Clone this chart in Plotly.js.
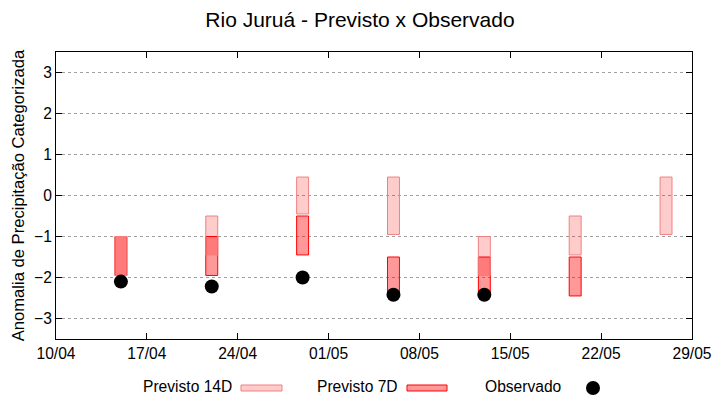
<!DOCTYPE html>
<html><head><meta charset="utf-8">
<script src="https://cdn.plot.ly/plotly-3.0.1.min.js"></script>
<style>body{margin:0;background:#fff}#c{width:720px;height:400px}</style>
</head><body><div id="c"></div>
<script>
const dates = ["2024-04-15","2024-04-22","2024-04-29","2024-05-06","2024-05-13","2024-05-20","2024-05-27"];
const p14Low  = [-1.95, -1.45, -0.45, -0.95, -1.95, -1.45, -0.95];
const p14High = [-1.00, -0.50,  0.45,  0.45, -1.00, -0.50,  0.45];
const p7Low   = [-1.95, -1.95, -1.45, -2.45, -2.45, -2.45, null];
const p7High  = [-1.00, -1.00, -0.50, -1.50, -1.50, -1.50, null];
const obsDates = ["2024-04-15","2024-04-22","2024-04-29","2024-05-06","2024-05-13"];
const obsVals  = [-2.10, -2.22, -2.00, -2.42, -2.42];
const xTickVals = ["2024-04-10","2024-04-17","2024-04-24","2024-05-01","2024-05-08","2024-05-15","2024-05-22","2024-05-29"];
const yTickVals = [-3,-2,-1,0,1,2,3];

const barW = 0.92*86400000;
function span(lo, hi){ return lo.map((v,i)=> (v===null||hi[i]===null)? null : hi[i]-v); }

const traces = [
  {type:'bar', x:dates, base:p7Low, y:span(p7Low,p7High), width:barW,
   marker:{color:'rgba(255,0,0,0.4)', line:{color:'#ff0000', width:1}}, hoverinfo:'skip'},
  {type:'bar', x:dates, base:p14Low, y:span(p14Low,p14High), width:barW,
   marker:{color:'rgba(255,0,0,0.2)', line:{color:'#f08080', width:1}}, hoverinfo:'skip'},
  {type:'scatter', mode:'markers', x:obsDates, y:obsVals,
   marker:{color:'#000', size:14, line:{width:0}}}
];

const font = {family:'Liberation Sans, Arial, sans-serif', color:'#000'};
const fs = 15.6;
const layout = {
  width:720, height:400,
  margin:{l:56, r:28, t:52, b:61},
  paper_bgcolor:'#fff', plot_bgcolor:'#fff',
  barmode:'overlay', showlegend:false,
  font:Object.assign({size:fs}, font),
  title:{text:'Rio Juruá - Previsto x Observado', x:0.5, xanchor:'center', y:0.95, yanchor:'middle',
         font:Object.assign({size:21}, font)},
  xaxis:{type:'date', range:['2024-04-10','2024-05-29'], tickvals:xTickVals, tickformat:'%d/%m',
         showgrid:false, zeroline:false, showline:true, mirror:'ticks', linecolor:'#000', linewidth:1,
         ticks:'inside', ticklen:6, tickcolor:'#000', tickfont:Object.assign({size:fs}, font)},
  yaxis:{range:[-3.5,3.5], tickvals:yTickVals, showgrid:true, gridcolor:'#a0a0a0', griddash:'dot', gridwidth:1,
         zeroline:false, showline:true, mirror:'ticks', linecolor:'#000', linewidth:1,
         ticks:'inside', ticklen:6, tickcolor:'#000', tickfont:Object.assign({size:fs}, font),
         title:{text:'Anomalia de Precipitação Categorizada', standoff:5, font:Object.assign({size:16.6}, font)}},
  shapes:[
    {type:'rect', xref:'paper', yref:'paper', x0:(241-56)/636, x1:(282-56)/636, y0:-(385-339)/287, y1:-(391-339)/287,
     fillcolor:'rgba(255,0,0,0.2)', line:{color:'#f08080', width:1}},
    {type:'rect', xref:'paper', yref:'paper', x0:(407-56)/636, x1:(447-56)/636, y0:-(385-339)/287, y1:-(391-339)/287,
     fillcolor:'rgba(255,0,0,0.4)', line:{color:'#ff0000', width:1}},
    {type:'circle', xref:'paper', yref:'paper', x0:(586-56)/636, x1:(600-56)/636, y0:-(381-339)/287, y1:-(395-339)/287,
     fillcolor:'#000', line:{color:'#000', width:0}}
  ],
  annotations:[
    {text:'Previsto 14D', xref:'paper', yref:'paper', x:(234-56)/636, y:-(386-339)/287, xanchor:'right', yanchor:'middle', showarrow:false, font:Object.assign({size:fs}, font)},
    {text:'Previsto 7D', xref:'paper', yref:'paper', x:(400-56)/636, y:-(386-339)/287, xanchor:'right', yanchor:'middle', showarrow:false, font:Object.assign({size:fs}, font)},
    {text:'Observado', xref:'paper', yref:'paper', x:(564-56)/636, y:-(386-339)/287, xanchor:'right', yanchor:'middle', showarrow:false, font:Object.assign({size:fs}, font)}
  ]
};
Plotly.newPlot('c', traces, layout, {displayModeBar:false, staticPlot:true});
</script></body></html>
